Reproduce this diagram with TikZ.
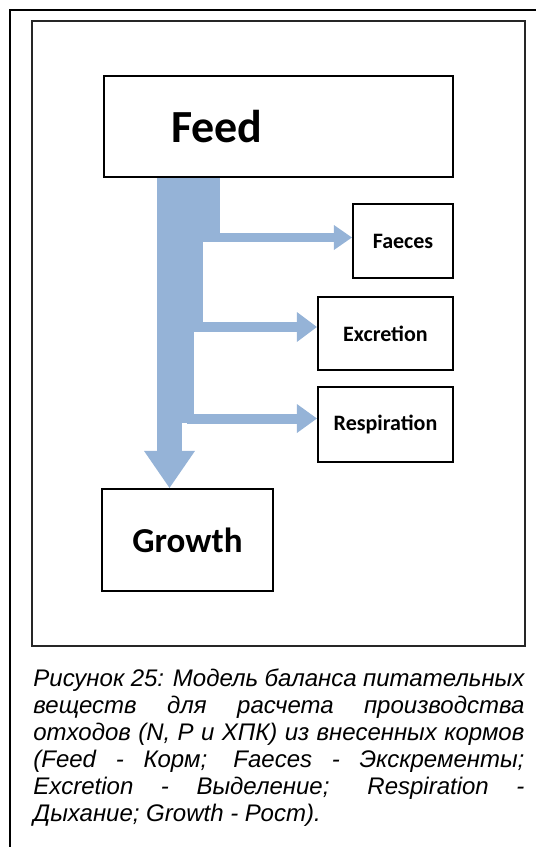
\documentclass[tikz,border=0pt]{standalone}
\usepackage{fontspec}
\setmainfont{Liberation Sans}
\newfontfamily\boxfont{Carlito}
\usetikzlibrary{arrows.meta, backgrounds}
\definecolor{flowblue}{HTML}{95B3D7}
\tikzset{
  x=0.5pt, y=-0.5pt,
  box/.style={rectangle, draw=black, line width=1.1pt, fill=white, inner sep=0pt,
              align=center, font=\boxfont\bfseries\fontsize{11}{13}\selectfont},
  boxl/.style={box, font=\boxfont\bfseries\fontsize{17.5}{20}\selectfont},
  boxxl/.style={box, font=\boxfont\bfseries\fontsize{23}{27}\selectfont},
  frame/.style={draw=black!85, line width=0.65pt},
  outerframe/.style={draw=black, line width=1.1pt},
  flowfill/.style={fill=flowblue},
  flow/.style={draw=flowblue, line width=#1},
  caption/.style={anchor=north west, inner sep=0pt, text width=245.5pt, align=justify,
                  font=\itshape\fontsize{12}{13.5}\selectfont},
}

\begin{document}
\begin{tikzpicture}
  \useasboundingbox (0,0) rectangle (536,847);
  \clip (0,0) rectangle (536,847);
  % boxes
  \node[boxxl, minimum width=174.5pt, minimum height=50.5pt, text width=107.5pt,
        inner xsep=33.5pt, align=left] (feed) at (278.5,126.5) {Feed};
  \node[box, minimum width=50pt, minimum height=37pt] (faeces) at (403,241) {Faeces};
  \node[box, minimum width=67.5pt, minimum height=36.5pt] (excretion) at (385.5,333.5) {Excretion};
  \node[box, minimum width=67.5pt, minimum height=37.5pt] (respiration) at (385.5,424.5) {Respiration};
  \node[boxl, minimum width=85.5pt, minimum height=51pt] (growth) at (187.5,540) {Growth};
  % caption
  \node[caption] (caption) at (33,668) {Рисунок 25: Модель баланса питательных\linebreak
    веществ для расчета производства\linebreak
    отходов (N, P и ХПК) из внесенных кормов\linebreak
    (Feed - Корм; Faeces - Экскременты;\linebreak
    Excretion - Выделение; Respiration -\linebreak
    Дыхание; Growth - Рост).};
  \begin{scope}[on background layer]
    % frames
    \draw[outerframe] (10,10) rectangle (560,880);
    \draw[frame] (32,21) rectangle (525,646);
    % trunk, narrowing after each branch
    \fill[flowfill] (157,177) rectangle (220,242);
    \fill[flowfill] (157,242) rectangle (203,332);
    \fill[flowfill] (157,332) rectangle (194,423);
    \draw[flow=12.5pt, {Triangle[length=18.5pt, width=25.5pt, line width=0pt]}-]
      ([xshift=-9pt]growth.north) -- ++(0,-312);
    % branches
    \draw[flow=4.5pt, {Triangle[length=9pt, width=12.5pt, line width=0pt]}-]
      ([yshift=1.75pt]faeces.west) -- ++(-140,0);
    \draw[flow=5pt, {Triangle[length=10pt, width=15pt, line width=0pt]}-]
      ([yshift=3.25pt]excretion.west) -- ++(-120,0);
    \draw[flow=5pt, {Triangle[length=10pt, width=14.5pt, line width=0pt]}-]
      ([yshift=3pt]respiration.west) -- ++(-130,0);
  \end{scope}
\end{tikzpicture}
\end{document}
